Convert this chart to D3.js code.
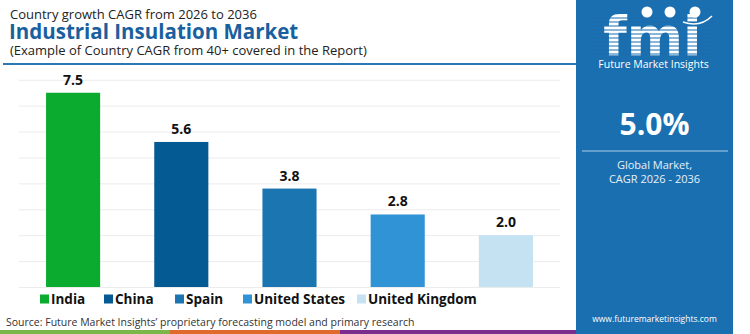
<!DOCTYPE html>
<html><head><meta charset="utf-8">
<script src="https://cdn.jsdelivr.net/npm/d3@7"></script>
<style>body{margin:0;background:#fff}svg{display:block;font-family:"Open Sans",sans-serif}</style>
</head><body>
<svg id="c" width="750" height="334"></svg>
<script>
const categories = ["India","China","Spain","United States","United Kingdom"];
const values = [7.5, 5.6, 3.8, 2.8, 2.0];
const colors = ["#0aab2e","#045a93","#1b75b0","#2f93d6","#c5e2f3"];
const gridTicks = [0,1,2,3,4,5,6,7,8];
const globalCagr = "5.0%";

const svg = d3.select("#c");
const x = d3.scaleBand().domain(categories).range([19,560]).paddingInner(0.5).paddingOuter(0.25);
const y = d3.scaleLinear().domain([0,8]).range([287,79.8]);

// titles
svg.append("text").attr("x",10).attr("y",19).attr("font-size",13).attr("fill","#222").text("Country growth CAGR from 2026 to 2036");
svg.append("text").attr("x",9).attr("y",39).attr("font-size",20.5).attr("font-weight",700).attr("fill","#1a5f9e").text("Industrial Insulation Market");
svg.append("text").attr("x",10).attr("y",55).attr("font-size",13).attr("fill","#222").text("(Example of Country CAGR from 40+ covered in the Report)");
svg.append("line").attr("x1",3).attr("x2",576).attr("y1",64).attr("y2",64).attr("stroke","#2b78b5").attr("stroke-width",2);

// grid
const yAxis = d3.axisLeft(y).tickValues(gridTicks).tickSize(-(560-19)).tickFormat("");
const ga = svg.append("g").attr("transform","translate(19,0)").call(yAxis);
ga.select(".domain").remove();
ga.selectAll(".tick line").attr("stroke","#ececec").attr("stroke-width",1);

// bars
svg.selectAll("rect.bar").data(categories).join("rect").attr("class","bar")
  .attr("x",d=>x(d)).attr("width",x.bandwidth())
  .attr("y",(d,i)=>y(values[i])).attr("height",(d,i)=>y(0)-y(values[i]))
  .attr("fill",(d,i)=>colors[i]);
svg.selectAll("text.val").data(categories).join("text").attr("class","val")
  .attr("x",d=>x(d)+x.bandwidth()/2).attr("y",(d,i)=>y(values[i])-8)
  .attr("text-anchor","middle").attr("font-size",14).attr("font-weight",700).attr("fill","#111")
  .text((d,i)=>values[i].toFixed(1));

// legend
const legX = [40,104,175,243,357];
const lg = svg.selectAll("g.leg").data(categories).join("g").attr("class","leg")
  .attr("transform",(d,i)=>`translate(${legX[i]},299)`);
lg.append("rect").attr("x",0).attr("y",-4.5).attr("width",9).attr("height",9).attr("fill",(d,i)=>colors[i]);
lg.append("text").attr("x",11).attr("y",5).attr("font-size",13.5).attr("font-weight",700).attr("fill","#111").text(d=>d);

// source
svg.append("text").attr("x",6).attr("y",326).attr("font-size",10.5).attr("fill","#333")
  .text("Source: Future Market Insights’ proprietary forecasting model and primary research");

// bottom stripes
[["#7ab648",0,170],["#e06a2c",170,340],["#7b2d8e",340,576]].forEach(s=>{
  svg.append("rect").attr("x",s[1]).attr("y",330).attr("width",s[2]-s[1]).attr("height",4).attr("fill",s[0]);
});

// right panel
const px = 576, pw = 157, pc = px + pw/2;
svg.append("rect").attr("x",px).attr("y",0).attr("width",pw).attr("height",334).attr("fill","#1a6fb0");
// logo
const logo = svg.append("g");
logo.append("text").attr("x",pc-2).attr("y",55).attr("text-anchor","middle").attr("font-size",54)
  .attr("font-weight",800).attr("font-family","DejaVu Sans, sans-serif").attr("fill","#fff").text("fmi");
for(let yy=18; yy<57; yy+=4){
  logo.append("line").attr("x1",px+15).attr("x2",px+140).attr("y1",yy).attr("y2",yy).attr("stroke","#1a6fb0").attr("stroke-width",1.1);
}
[[647,12],[670,12],[695,12]].forEach(c=>{
  logo.append("circle").attr("cx",c[0]).attr("cy",c[1]).attr("r",5.5).attr("fill","#fff");
});
logo.append("path").attr("d","M683,22 Q700,28 712,16").attr("fill","none").attr("stroke","#fff").attr("stroke-width",1.5);
svg.append("text").attr("x",pc-1).attr("y",68).attr("text-anchor","middle").attr("font-size",10.5).attr("fill","#fff").text("Future Market Insights");
svg.append("text").attr("x",pc).attr("y",135).attr("text-anchor","middle").attr("font-size",30).attr("font-weight",700).attr("fill","#fff").text(globalCagr);
svg.append("line").attr("x1",582).attr("x2",728).attr("y1",151).attr("y2",151).attr("stroke","#a9cfe9").attr("stroke-width",1.2);
svg.append("text").attr("x",pc).attr("y",169).attr("text-anchor","middle").attr("font-size",11).attr("fill","#e8f1f8").text("Global Market,");
svg.append("text").attr("x",pc).attr("y",183).attr("text-anchor","middle").attr("font-size",11).attr("fill","#e8f1f8").text("CAGR 2026 - 2036");
svg.append("text").attr("x",pc).attr("y",322).attr("text-anchor","middle").attr("font-size",8.5).attr("fill","#fff").text("www.futuremarketinsights.com");
</script>
</body></html>
